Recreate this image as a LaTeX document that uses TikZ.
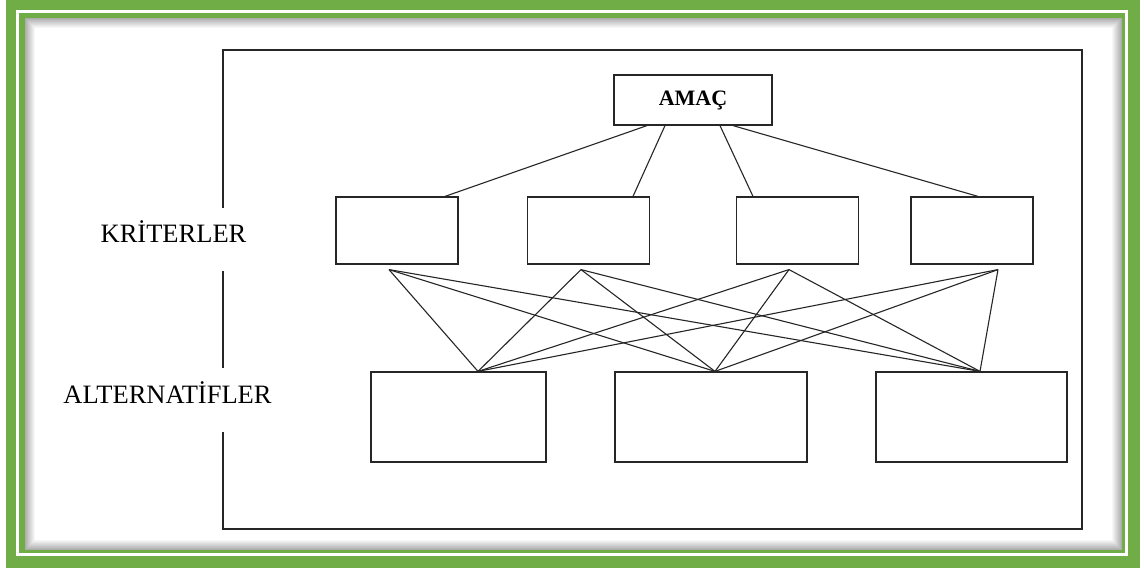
\documentclass[tikz,border=0pt]{standalone}
\usepackage{fontspec}
\setmainfont{Liberation Serif}
\definecolor{cerceve}{HTML}{70AD47}
\definecolor{cizgi}{gray}{0.15}

\tikzset{
  kutu/.style={draw=cizgi, line width=1.2pt, inner sep=0pt},
  kriter/.style={kutu, minimum width=122pt, minimum height=67pt},
  alternatif/.style={kutu, minimum width=190pt, minimum height=90pt},
  seviye/.style={fill=white, font=\fontsize{26.5}{30}\selectfont,
    text height=18pt, text depth=12pt, inner xsep=2pt, minimum height=63pt},
  bag/.style={draw=cizgi, line width=1.1pt}
}

\begin{document}
\begin{tikzpicture}[x=1pt, y=-1pt]
  \useasboundingbox (0,0) rectangle (1144,569);

  % green double frame
  \fill[cerceve] (6,0) rectangle (1140,568);
  \fill[white] (16,10) rectangle (1128,556);
  \fill[cerceve] (19,13) rectangle (1125,553);
  \fill[white] (25,18) rectangle (1122,550);
  \foreach \i in {0,...,9}
    \draw[black, opacity=0.32-0.032*\i, line width=1pt]
      (25.5+\i,18.5+\i) rectangle (1121.5-\i,549.5-\i);

  % outer box and levels
  \node[kutu, minimum width=859pt, minimum height=479pt] (cati) at (652.5,289.5) {};
  \node[seviye] (kriterler) at (173.5,240) {KRİTERLER};
  \node[seviye] (alternatifler) at (167.5,400) {ALTERNATİFLER};

  \node[kutu, minimum width=158pt, minimum height=50pt,
    font=\bfseries\fontsize{22}{24}\selectfont] (amac) at (693,100) {AMAÇ};

  \node[kriter] (k1) at (397,230.5) {};
  \node[kriter] (k2) at (588.5,230.5) {};
  \node[kriter] (k3) at (797.5,230.5) {};
  \node[kriter] (k4) at (972,230.5) {};

  \node[alternatif, minimum width=175pt] (a1) at (458.5,417) {};
  \node[alternatif, minimum width=192pt] (a2) at (711,417) {};
  \node[alternatif, minimum width=191pt] (a3) at (971.5,417) {};

  % goal to criteria
  \draw[bag] ([xshift=-46pt]amac.south) -- ([xshift=48pt]k1.north);
  \draw[bag] ([xshift=-28pt]amac.south) -- ([xshift=44.5pt]k2.north);
  \draw[bag] ([xshift=27pt]amac.south) -- ([xshift=-44.5pt]k3.north);
  \draw[bag] ([xshift=40pt]amac.south) -- ([xshift=6pt]k4.north);

  % criteria to alternatives
  \coordinate (k1b) at ([xshift=-8pt,yshift=-5pt]k1.south);
  \coordinate (k2b) at ([xshift=-7.5pt,yshift=-5pt]k2.south);
  \coordinate (k3b) at ([xshift=-8.5pt,yshift=-5pt]k3.south);
  \coordinate (k4b) at ([xshift=26pt,yshift=-5pt]k4.south);
  \coordinate (a1t) at ([xshift=19.5pt]a1.north);
  \coordinate (a2t) at ([xshift=4pt]a2.north);
  \coordinate (a3t) at ([xshift=8.5pt]a3.north);
  \foreach \k in {k1b,k2b,k3b,k4b}
    \foreach \a in {a1t,a2t,a3t}
      \draw[bag] (\k) -- (\a);
\end{tikzpicture}
\end{document}
